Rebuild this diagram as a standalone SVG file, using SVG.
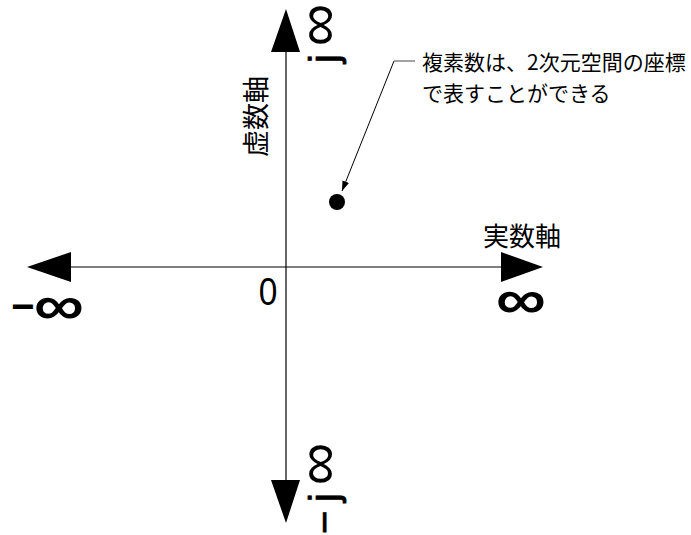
<svg xmlns="http://www.w3.org/2000/svg" width="691" height="535" viewBox="0 0 691 535">
<style>
.ax{stroke:#000;stroke-width:1.2;fill:none}
.ah{fill:#000}
.jp{font-family:"Noto Sans CJK JP","Liberation Sans",sans-serif;fill:#000}
.lat{font-family:"Liberation Sans",sans-serif;fill:#000}
.th{stroke:#000;stroke-width:0.8}
.hv{stroke:#000;stroke-width:1.6}
</style>
<defs>
<marker id="sm" viewBox="0 0 10 10" refX="10" refY="5" markerWidth="10" markerHeight="10" markerUnits="userSpaceOnUse" orient="auto">
<path d="M0,1.5 L10,5 L0,8.5 Z" fill="#000"/>
</marker>
</defs>
<g id="connectors">
<line class="ax" x1="60" y1="267" x2="510" y2="267"/>
<line class="ax" x1="286" y1="40" x2="286" y2="490"/>
<polygon class="ah" points="27,267 71,252 71,282"/>
<polygon class="ah" points="543,267 501,252 501,282"/>
<polygon class="ah" points="286,9 271,52 300,52"/>
<polygon class="ah" points="286,523 271,480 300,480"/>
<polyline points="394,61 342,191" fill="none" stroke="#000" stroke-width="1" marker-end="url(#sm)"/>
<polyline points="415,61 394,61" fill="none" stroke="#666" stroke-width="1.2"/>
</g>
<g id="point"><circle cx="337" cy="202" r="8" fill="#000"/></g>
<g id="origin"><text class="lat" font-size="38" text-anchor="middle" transform="translate(268 305) scale(0.88 1)">0</text></g>
<g id="real-axis-label"><text class="jp" x="483" y="246" font-size="26">実数軸</text></g>
<g id="imag-axis-label"><text class="jp" transform="translate(266 157) rotate(-90)" font-size="27">虚数軸</text></g>
<g id="pos-inf"><text class="lat hv" font-size="64" text-anchor="middle" transform="translate(521 317) scale(1.08 0.8)">∞</text></g>
<g id="neg-inf">
<text class="lat" font-size="40" font-weight="bold" transform="translate(11 320)">−</text>
<text class="lat hv" font-size="64" text-anchor="middle" transform="translate(59 323) scale(1.08 0.8)">∞</text>
</g>
<g id="pos-j-inf">
<text class="lat th" transform="translate(338 63) rotate(-90)" font-size="40">j</text>
<text class="lat" transform="translate(338 25) rotate(-90)" font-size="60" text-anchor="middle">∞</text>
</g>
<g id="neg-j-inf">
<text class="lat th" transform="translate(338 534) rotate(-90)" font-size="40">−</text>
<text class="lat th" transform="translate(338 502) rotate(-90)" font-size="40">j</text>
<text class="lat" transform="translate(338 464) rotate(-90)" font-size="60" text-anchor="middle">∞</text>
</g>
<g id="note">
<text class="jp" x="422" y="70" font-size="21">複素数は、2次元空間の座標</text>
<text class="jp" x="422" y="101" font-size="21">で表すことができる</text>
</g>
</svg>
